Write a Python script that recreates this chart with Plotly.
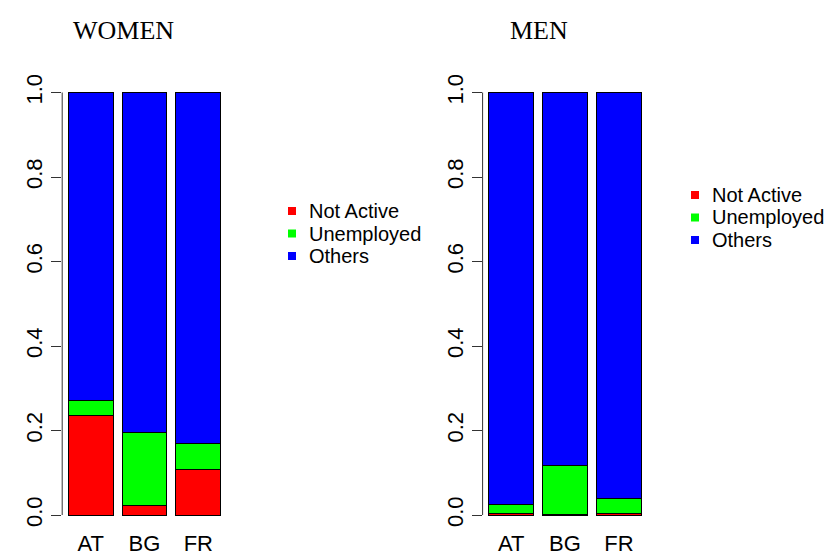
import plotly.graph_objects as go

# ---- data ----
countries = ["AT", "BG", "FR"]
series_names = ["Not Active", "Unemployed", "Others"]
series_colors = ["#FF0000", "#00FF00", "#0000FF"]

women_not_active = [0.236, 0.023, 0.107]
women_unemployed = [0.036, 0.173, 0.062]
women_others = [0.728, 0.804, 0.831]

men_not_active = [0.003, 0.001, 0.003]
men_unemployed = [0.023, 0.117, 0.036]
men_others = [0.974, 0.882, 0.961]

y_tick_vals = [0.0, 0.2, 0.4, 0.6, 0.8, 1.0]
y_tick_text = ["0.0", "0.2", "0.4", "0.6", "0.8", "1.0"]

W, H = 834, 558
def fx(px):
    return px / W
def fy(py):
    return 1 - py / H

SANS = "Liberation Sans, Arial, sans-serif"
SERIF = "Liberation Serif, Times New Roman, serif"

fig = go.Figure()

panels = [
    ("x", "y", [women_not_active, women_unemployed, women_others]),
    ("x2", "y2", [men_not_active, men_unemployed, men_others]),
]
for xa, ya, vals in panels:
    for name, color, v in zip(series_names, series_colors, vals):
        fig.add_trace(go.Bar(
            x=countries, y=v, name=name, xaxis=xa, yaxis=ya,
            marker=dict(color=color, line=dict(color="black", width=1)),
            showlegend=False, hoverinfo="x+y+name",
        ))

xaxis_common = dict(
    type="category", range=[-0.53, 2.53], showgrid=False, zeroline=False,
    showline=False, ticks="", ticklabelstandoff=-4,
    tickfont=dict(family=SANS, size=22, color="black"),
    automargin=False, fixedrange=True,
)
yaxis_common = dict(
    range=[-0.04, 1.04], tickvals=y_tick_vals, ticktext=y_tick_text,
    showgrid=False, zeroline=False, showline=False, ticks="outside",
    ticklen=10, tickwidth=1, tickcolor="#333333", tickangle=-90,
    tickfont=dict(family=SANS, size=22, color="black"), automargin=False,
    fixedrange=True,
)

fig.update_layout(
    width=W, height=H, autosize=False,
    margin=dict(l=0, r=0, t=0, b=0),
    paper_bgcolor="white", plot_bgcolor="white",
    barmode="stack", bargap=0.1667,
    showlegend=False,
    xaxis=dict(domain=[fx(54.2), fx(218.8)], anchor="y", **xaxis_common),
    yaxis=dict(domain=[fy(523.9), fy(67.6)], anchor="x", **yaxis_common),
    xaxis2=dict(domain=[fx(474.6), fx(639.4)], anchor="y2", **xaxis_common),
    yaxis2=dict(domain=[fy(523.9), fy(67.6)], anchor="x2", **yaxis_common),
)

# axis lines (R style: only from first to last tick)
for xr, yr in [("x domain", "y"), ("x2 domain", "y2")]:
    fig.add_shape(type="line", xref=xr, yref=yr, x0=0, x1=0, y0=0, y1=1,
                  line=dict(color="#333333", width=1))

# titles
fig.add_annotation(text="WOMEN", xref="paper", yref="paper", x=fx(115), y=fy(22),
                   xanchor="center", yanchor="middle", showarrow=False,
                   font=dict(family=SERIF, size=26, color="black"))
fig.add_annotation(text="MEN", xref="paper", yref="paper", x=fx(531), y=fy(22),
                   xanchor="center", yanchor="middle", showarrow=False,
                   font=dict(family=SERIF, size=26, color="black"))

# legends (one per panel)
legend_specs = [(280, 300, 203), (683, 703, 187)]
LEG_STEP = 22.5
for sq_x, tx_x, y0 in legend_specs:
    for i, (name, color) in enumerate(zip(series_names, series_colors)):
        yc = y0 + LEG_STEP * i
        fig.add_shape(type="rect", xref="paper", yref="paper",
                      x0=fx(sq_x), x1=fx(sq_x + 8), y0=fy(yc + 4), y1=fy(yc - 4),
                      fillcolor=color, line=dict(width=0))
        fig.add_annotation(text=name, xref="paper", yref="paper", x=fx(tx_x), y=fy(yc),
                           xanchor="left", yanchor="middle", showarrow=False,
                           borderpad=0,
                           font=dict(family=SANS, size=20, color="black"))

fig.write_html("out.html")
